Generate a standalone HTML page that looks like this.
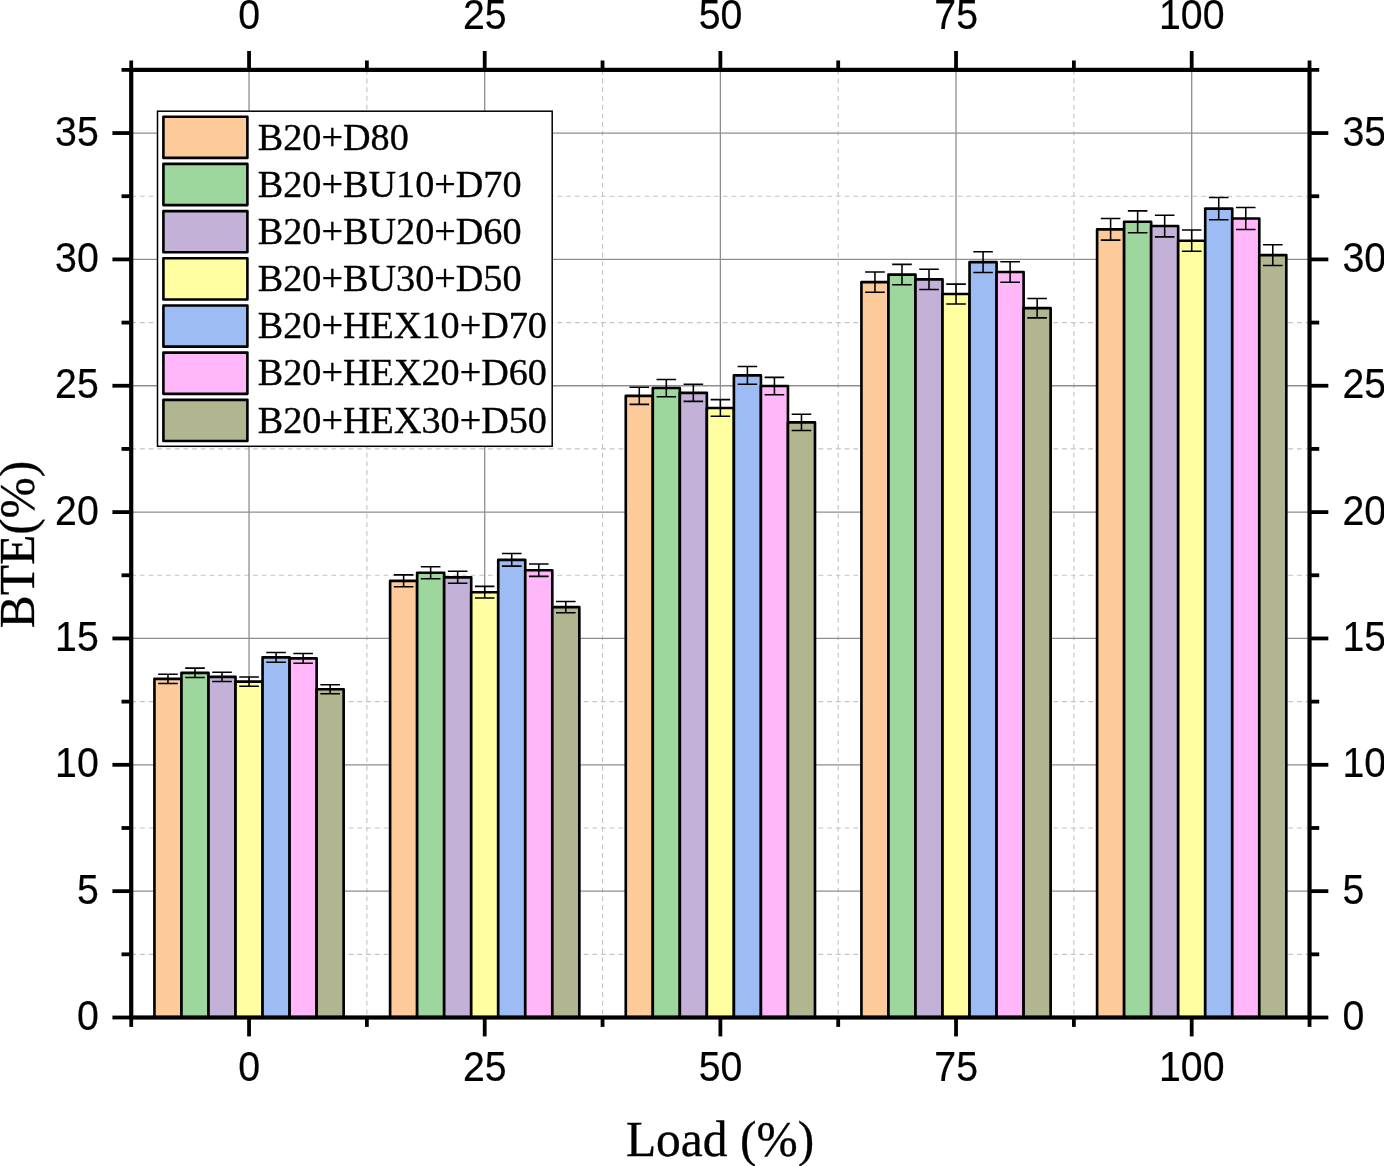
<!DOCTYPE html>
<html lang="en"><head><meta charset="utf-8"><title>BTE vs Load</title>
<style>html,body{margin:0;padding:0;background:#fff;overflow:hidden}svg{display:block}</style></head>
<body>
<svg width="1384" height="1166" viewBox="0 0 1384 1166">
<rect width="1384" height="1166" fill="#fff"/>
<g stroke="#c4c4c4" stroke-width="1.15" stroke-dasharray="4.8 3.9" fill="none">
<line x1="366.88" y1="69.88" x2="366.88" y2="1017.50"/>
<line x1="602.54" y1="69.88" x2="602.54" y2="1017.50"/>
<line x1="838.21" y1="69.88" x2="838.21" y2="1017.50"/>
<line x1="1073.87" y1="69.88" x2="1073.87" y2="1017.50"/>
<line x1="1309.53" y1="69.88" x2="1309.53" y2="1017.50"/>
<line x1="131.22" y1="954.33" x2="1309.53" y2="954.33"/>
<line x1="131.22" y1="827.98" x2="1309.53" y2="827.98"/>
<line x1="131.22" y1="701.62" x2="1309.53" y2="701.62"/>
<line x1="131.22" y1="575.28" x2="1309.53" y2="575.28"/>
<line x1="131.22" y1="448.92" x2="1309.53" y2="448.92"/>
<line x1="131.22" y1="322.58" x2="1309.53" y2="322.58"/>
<line x1="131.22" y1="196.23" x2="1309.53" y2="196.23"/>
</g>
<g stroke="#8e8e8e" stroke-width="1.3" fill="none">
<line x1="249.05" y1="69.88" x2="249.05" y2="1017.50"/>
<line x1="484.71" y1="69.88" x2="484.71" y2="1017.50"/>
<line x1="720.38" y1="69.88" x2="720.38" y2="1017.50"/>
<line x1="956.04" y1="69.88" x2="956.04" y2="1017.50"/>
<line x1="1191.70" y1="69.88" x2="1191.70" y2="1017.50"/>
<line x1="131.22" y1="891.15" x2="1309.53" y2="891.15"/>
<line x1="131.22" y1="764.80" x2="1309.53" y2="764.80"/>
<line x1="131.22" y1="638.45" x2="1309.53" y2="638.45"/>
<line x1="131.22" y1="512.10" x2="1309.53" y2="512.10"/>
<line x1="131.22" y1="385.75" x2="1309.53" y2="385.75"/>
<line x1="131.22" y1="259.40" x2="1309.53" y2="259.40"/>
<line x1="131.22" y1="133.05" x2="1309.53" y2="133.05"/>
</g>
<g stroke="#000" stroke-width="2.65" stroke-linejoin="round">
<rect x="154.44" y="678.88" width="27.03" height="338.62" fill="#FDCA99"/>
<rect x="181.47" y="672.82" width="27.03" height="344.68" fill="#9DD79D"/>
<rect x="208.50" y="676.86" width="27.03" height="340.64" fill="#C3B1D7"/>
<rect x="235.53" y="681.66" width="27.03" height="335.84" fill="#FFFFA1"/>
<rect x="262.56" y="657.40" width="27.03" height="360.10" fill="#9CBCF3"/>
<rect x="289.60" y="658.41" width="27.03" height="359.09" fill="#FFB7F9"/>
<rect x="316.62" y="689.24" width="27.03" height="328.26" fill="#B1B590"/>
<rect x="390.11" y="580.83" width="27.03" height="436.67" fill="#FDCA99"/>
<rect x="417.14" y="572.75" width="27.03" height="444.75" fill="#9DD79D"/>
<rect x="444.17" y="577.30" width="27.03" height="440.20" fill="#C3B1D7"/>
<rect x="471.20" y="592.21" width="27.03" height="425.29" fill="#FFFFA1"/>
<rect x="498.23" y="559.86" width="27.03" height="457.64" fill="#9CBCF3"/>
<rect x="525.26" y="570.22" width="27.03" height="447.28" fill="#FFB7F9"/>
<rect x="552.29" y="607.12" width="27.03" height="410.38" fill="#B1B590"/>
<rect x="625.77" y="395.86" width="27.03" height="621.64" fill="#FDCA99"/>
<rect x="652.80" y="388.02" width="27.03" height="629.48" fill="#9DD79D"/>
<rect x="679.83" y="392.83" width="27.03" height="624.67" fill="#C3B1D7"/>
<rect x="706.86" y="407.99" width="27.03" height="609.51" fill="#FFFFA1"/>
<rect x="733.89" y="375.39" width="27.03" height="642.11" fill="#9CBCF3"/>
<rect x="760.92" y="386.00" width="27.03" height="631.50" fill="#FFB7F9"/>
<rect x="787.95" y="422.39" width="27.03" height="595.11" fill="#B1B590"/>
<rect x="861.43" y="282.14" width="27.03" height="735.36" fill="#FDCA99"/>
<rect x="888.46" y="274.56" width="27.03" height="742.94" fill="#9DD79D"/>
<rect x="915.49" y="279.36" width="27.03" height="738.14" fill="#C3B1D7"/>
<rect x="942.52" y="294.02" width="27.03" height="723.48" fill="#FFFFA1"/>
<rect x="969.55" y="262.18" width="27.03" height="755.32" fill="#9CBCF3"/>
<rect x="996.58" y="272.03" width="27.03" height="745.47" fill="#FFB7F9"/>
<rect x="1023.61" y="308.17" width="27.03" height="709.33" fill="#B1B590"/>
<rect x="1097.10" y="229.33" width="27.03" height="788.17" fill="#FDCA99"/>
<rect x="1124.12" y="221.75" width="27.03" height="795.75" fill="#9DD79D"/>
<rect x="1151.15" y="226.04" width="27.03" height="791.46" fill="#C3B1D7"/>
<rect x="1178.18" y="240.70" width="27.03" height="776.80" fill="#FFFFA1"/>
<rect x="1205.22" y="208.61" width="27.03" height="808.89" fill="#9CBCF3"/>
<rect x="1232.25" y="218.46" width="27.03" height="799.04" fill="#FFB7F9"/>
<rect x="1259.28" y="255.10" width="27.03" height="762.40" fill="#B1B590"/>
</g>
<g stroke="#000" stroke-width="1.55" fill="none">
<path d="M167.96 674.24V683.52M158.16 674.24H177.76M158.16 683.52H177.76"/>
<path d="M194.99 668.10V677.54M185.19 668.10H204.79M185.19 677.54H204.79"/>
<path d="M222.02 672.19V681.53M212.22 672.19H231.82M212.22 681.53H231.82"/>
<path d="M249.05 677.06V686.26M239.25 677.06H258.85M239.25 686.26H258.85"/>
<path d="M276.08 652.47V662.34M266.28 652.47H285.88M266.28 662.34H285.88"/>
<path d="M303.11 653.49V663.33M293.31 653.49H312.91M293.31 663.33H312.91"/>
<path d="M330.14 684.75V693.74M320.34 684.75H339.94M320.34 693.74H339.94"/>
<path d="M403.62 574.85V586.82M393.82 574.85H413.42M393.82 586.82H413.42"/>
<path d="M430.65 566.65V578.84M420.85 566.65H440.45M420.85 578.84H440.45"/>
<path d="M457.68 571.27V583.33M447.88 571.27H467.48M447.88 583.33H467.48"/>
<path d="M484.71 586.38V598.03M474.91 586.38H494.51M474.91 598.03H494.51"/>
<path d="M511.74 553.59V566.13M501.94 553.59H521.54M501.94 566.13H521.54"/>
<path d="M538.77 564.09V576.35M528.97 564.09H548.57M528.97 576.35H548.57"/>
<path d="M565.80 601.49V612.74M556.00 601.49H575.60M556.00 612.74H575.60"/>
<path d="M639.28 387.34V404.37M629.49 387.34H649.08M629.49 404.37H649.08"/>
<path d="M666.31 379.40V396.65M656.51 379.40H676.11M656.51 396.65H676.11"/>
<path d="M693.34 384.27V401.38M683.54 384.27H703.14M683.54 401.38H703.14"/>
<path d="M720.38 399.64V416.34M710.58 399.64H730.17M710.58 416.34H730.17"/>
<path d="M747.40 366.59V384.19M737.61 366.59H757.20M737.61 384.19H757.20"/>
<path d="M774.43 377.35V394.65M764.63 377.35H784.23M764.63 394.65H784.23"/>
<path d="M801.47 414.24V430.54M791.67 414.24H811.26M791.67 430.54H811.26"/>
<path d="M874.95 272.07V292.22M865.15 272.07H884.75M865.15 292.22H884.75"/>
<path d="M901.98 264.38V284.74M892.18 264.38H911.78M892.18 284.74H911.78"/>
<path d="M929.01 269.25V289.48M919.21 269.25H938.81M919.21 289.48H938.81"/>
<path d="M956.04 284.11V303.93M946.24 284.11H965.84M946.24 303.93H965.84"/>
<path d="M983.07 251.83V272.53M973.27 251.83H992.87M973.27 272.53H992.87"/>
<path d="M1010.10 261.82V282.25M1000.30 261.82H1019.90M1000.30 282.25H1019.90"/>
<path d="M1037.13 298.45V317.89M1027.33 298.45H1046.93M1027.33 317.89H1046.93"/>
<path d="M1110.61 218.53V240.13M1100.81 218.53H1120.41M1100.81 240.13H1120.41"/>
<path d="M1137.64 210.85V232.65M1127.84 210.85H1147.44M1127.84 232.65H1147.44"/>
<path d="M1164.67 215.20V236.89M1154.87 215.20H1174.47M1154.87 236.89H1174.47"/>
<path d="M1191.70 230.06V251.34M1181.90 230.06H1201.50M1181.90 251.34H1201.50"/>
<path d="M1218.73 197.53V219.69M1208.93 197.53H1228.53M1208.93 219.69H1228.53"/>
<path d="M1245.76 207.52V229.41M1235.96 207.52H1255.56M1235.96 229.41H1255.56"/>
<path d="M1272.79 244.66V265.55M1262.99 244.66H1282.59M1262.99 265.55H1282.59"/>
</g>
<g stroke="#000" stroke-width="4.2" fill="none" stroke-linecap="butt">
<rect x="131.22" y="69.88" width="1178.31" height="947.62"/>
</g>
<g stroke="#000" stroke-width="3.8" fill="none" stroke-linecap="butt">
<line x1="131.22" y1="69.88" x2="131.22" y2="60.48"/>
<line x1="131.22" y1="1017.50" x2="131.22" y2="1026.90"/>
<line x1="249.05" y1="69.88" x2="249.05" y2="50.97"/>
<line x1="249.05" y1="1017.50" x2="249.05" y2="1036.40"/>
<line x1="366.88" y1="69.88" x2="366.88" y2="60.48"/>
<line x1="366.88" y1="1017.50" x2="366.88" y2="1026.90"/>
<line x1="484.71" y1="69.88" x2="484.71" y2="50.97"/>
<line x1="484.71" y1="1017.50" x2="484.71" y2="1036.40"/>
<line x1="602.54" y1="69.88" x2="602.54" y2="60.48"/>
<line x1="602.54" y1="1017.50" x2="602.54" y2="1026.90"/>
<line x1="720.38" y1="69.88" x2="720.38" y2="50.97"/>
<line x1="720.38" y1="1017.50" x2="720.38" y2="1036.40"/>
<line x1="838.21" y1="69.88" x2="838.21" y2="60.48"/>
<line x1="838.21" y1="1017.50" x2="838.21" y2="1026.90"/>
<line x1="956.04" y1="69.88" x2="956.04" y2="50.97"/>
<line x1="956.04" y1="1017.50" x2="956.04" y2="1036.40"/>
<line x1="1073.87" y1="69.88" x2="1073.87" y2="60.48"/>
<line x1="1073.87" y1="1017.50" x2="1073.87" y2="1026.90"/>
<line x1="1191.70" y1="69.88" x2="1191.70" y2="50.97"/>
<line x1="1191.70" y1="1017.50" x2="1191.70" y2="1036.40"/>
<line x1="1309.53" y1="69.88" x2="1309.53" y2="60.48"/>
<line x1="1309.53" y1="1017.50" x2="1309.53" y2="1026.90"/>
<line x1="131.22" y1="1017.50" x2="112.42" y2="1017.50"/>
<line x1="1309.53" y1="1017.50" x2="1328.33" y2="1017.50"/>
<line x1="131.22" y1="954.33" x2="121.52" y2="954.33"/>
<line x1="1309.53" y1="954.33" x2="1319.23" y2="954.33"/>
<line x1="131.22" y1="891.15" x2="112.42" y2="891.15"/>
<line x1="1309.53" y1="891.15" x2="1328.33" y2="891.15"/>
<line x1="131.22" y1="827.98" x2="121.52" y2="827.98"/>
<line x1="1309.53" y1="827.98" x2="1319.23" y2="827.98"/>
<line x1="131.22" y1="764.80" x2="112.42" y2="764.80"/>
<line x1="1309.53" y1="764.80" x2="1328.33" y2="764.80"/>
<line x1="131.22" y1="701.62" x2="121.52" y2="701.62"/>
<line x1="1309.53" y1="701.62" x2="1319.23" y2="701.62"/>
<line x1="131.22" y1="638.45" x2="112.42" y2="638.45"/>
<line x1="1309.53" y1="638.45" x2="1328.33" y2="638.45"/>
<line x1="131.22" y1="575.28" x2="121.52" y2="575.28"/>
<line x1="1309.53" y1="575.28" x2="1319.23" y2="575.28"/>
<line x1="131.22" y1="512.10" x2="112.42" y2="512.10"/>
<line x1="1309.53" y1="512.10" x2="1328.33" y2="512.10"/>
<line x1="131.22" y1="448.92" x2="121.52" y2="448.92"/>
<line x1="1309.53" y1="448.92" x2="1319.23" y2="448.92"/>
<line x1="131.22" y1="385.75" x2="112.42" y2="385.75"/>
<line x1="1309.53" y1="385.75" x2="1328.33" y2="385.75"/>
<line x1="131.22" y1="322.58" x2="121.52" y2="322.58"/>
<line x1="1309.53" y1="322.58" x2="1319.23" y2="322.58"/>
<line x1="131.22" y1="259.40" x2="112.42" y2="259.40"/>
<line x1="1309.53" y1="259.40" x2="1328.33" y2="259.40"/>
<line x1="131.22" y1="196.23" x2="121.52" y2="196.23"/>
<line x1="1309.53" y1="196.23" x2="1319.23" y2="196.23"/>
<line x1="131.22" y1="133.05" x2="112.42" y2="133.05"/>
<line x1="1309.53" y1="133.05" x2="1328.33" y2="133.05"/>
<line x1="131.22" y1="69.88" x2="121.52" y2="69.88"/>
<line x1="1309.53" y1="69.88" x2="1319.23" y2="69.88"/>
</g>
<g font-family="'Liberation Sans', Arial, sans-serif" font-size="39.3" fill="#000" stroke="#000" stroke-width="0.2">
<text transform="translate(249.15 28.90) scale(1 1.085)" text-anchor="middle">0</text>
<text transform="translate(249.15 1081.00) scale(1 1.085)" text-anchor="middle">0</text>
<text transform="translate(484.81 28.90) scale(1 1.085)" text-anchor="middle">25</text>
<text transform="translate(484.81 1081.00) scale(1 1.085)" text-anchor="middle">25</text>
<text transform="translate(720.48 28.90) scale(1 1.085)" text-anchor="middle">50</text>
<text transform="translate(720.48 1081.00) scale(1 1.085)" text-anchor="middle">50</text>
<text transform="translate(956.14 28.90) scale(1 1.085)" text-anchor="middle">75</text>
<text transform="translate(956.14 1081.00) scale(1 1.085)" text-anchor="middle">75</text>
<text transform="translate(1191.80 28.90) scale(1 1.085)" text-anchor="middle">100</text>
<text transform="translate(1191.80 1081.00) scale(1 1.085)" text-anchor="middle">100</text>
<text transform="translate(98.80 1030.10) scale(1 1.085)" text-anchor="end">0</text>
<text transform="translate(1342.40 1030.10) scale(1 1.085)" text-anchor="start">0</text>
<text transform="translate(98.80 903.75) scale(1 1.085)" text-anchor="end">5</text>
<text transform="translate(1342.40 903.75) scale(1 1.085)" text-anchor="start">5</text>
<text transform="translate(98.80 777.40) scale(1 1.085)" text-anchor="end">10</text>
<text transform="translate(1342.40 777.40) scale(1 1.085)" text-anchor="start">10</text>
<text transform="translate(98.80 651.05) scale(1 1.085)" text-anchor="end">15</text>
<text transform="translate(1342.40 651.05) scale(1 1.085)" text-anchor="start">15</text>
<text transform="translate(98.80 524.70) scale(1 1.085)" text-anchor="end">20</text>
<text transform="translate(1342.40 524.70) scale(1 1.085)" text-anchor="start">20</text>
<text transform="translate(98.80 398.35) scale(1 1.085)" text-anchor="end">25</text>
<text transform="translate(1342.40 398.35) scale(1 1.085)" text-anchor="start">25</text>
<text transform="translate(98.80 272.00) scale(1 1.085)" text-anchor="end">30</text>
<text transform="translate(1342.40 272.00) scale(1 1.085)" text-anchor="start">30</text>
<text transform="translate(98.80 145.65) scale(1 1.085)" text-anchor="end">35</text>
<text transform="translate(1342.40 145.65) scale(1 1.085)" text-anchor="start">35</text>
</g>
<g font-family="'Liberation Serif', 'Times New Roman', serif" font-size="49.5" fill="#000" stroke="#000" stroke-width="0.3">
<text transform="translate(720 1155.9) scale(1 1.012)" text-anchor="middle">Load (%)</text>
<text transform="translate(34.3 544.5) rotate(-90) scale(1 1.03)" text-anchor="middle">BTE(%)</text>
</g>
<rect x="157.5" y="111.2" width="394.7" height="335.1" fill="#fff" stroke="#000" stroke-width="1.5"/>
<g stroke="#000" stroke-width="2.6" stroke-linejoin="round">
<rect x="163.4" y="116.70" width="84.0" height="41.2" fill="#FDCA99"/>
<rect x="163.4" y="163.89" width="84.0" height="41.2" fill="#9DD79D"/>
<rect x="163.4" y="211.08" width="84.0" height="41.2" fill="#C3B1D7"/>
<rect x="163.4" y="258.27" width="84.0" height="41.2" fill="#FFFFA1"/>
<rect x="163.4" y="305.46" width="84.0" height="41.2" fill="#9CBCF3"/>
<rect x="163.4" y="352.65" width="84.0" height="41.2" fill="#FFB7F9"/>
<rect x="163.4" y="399.84" width="84.0" height="41.2" fill="#B1B590"/>
</g>
<g font-family="'Liberation Serif', 'Times New Roman', serif" font-size="38.2" fill="#000" stroke="#000" stroke-width="0.35">
<text x="257.8" y="149.70">B20+D80</text>
<text x="257.8" y="196.85">B20+BU10+D70</text>
<text x="257.8" y="244.00">B20+BU20+D60</text>
<text x="257.8" y="291.15">B20+BU30+D50</text>
<text x="257.8" y="338.30">B20+HEX10+D70</text>
<text x="257.8" y="385.45">B20+HEX20+D60</text>
<text x="257.8" y="432.60">B20+HEX30+D50</text>
</g>
</svg>
</body></html>
